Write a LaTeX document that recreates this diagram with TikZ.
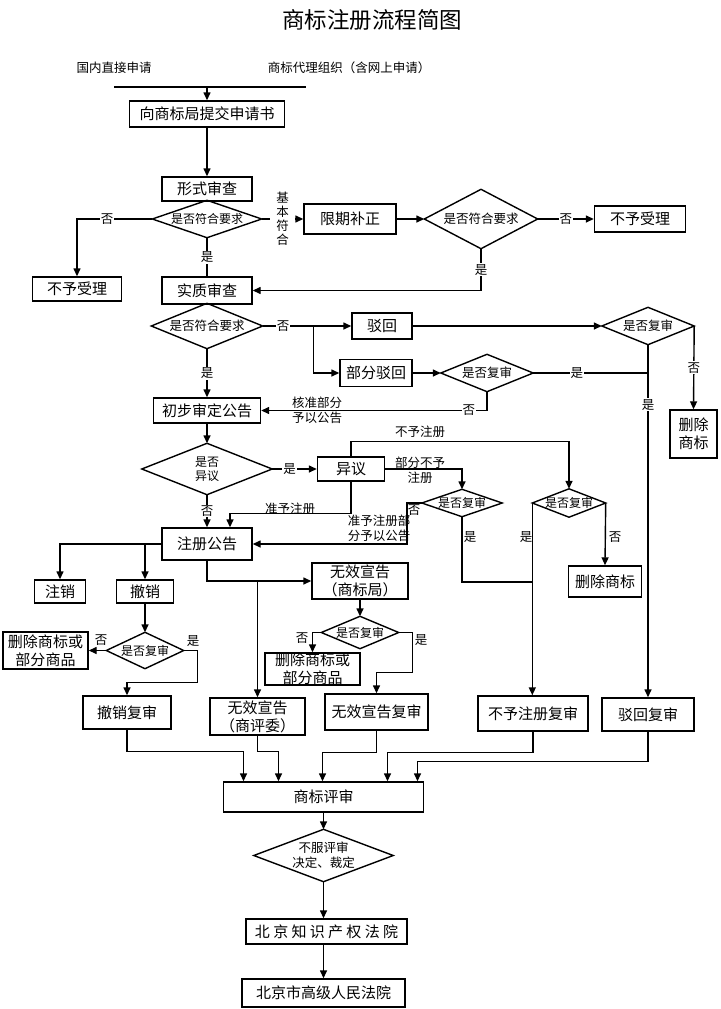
\documentclass[tikz,border=0pt]{standalone}
\usepackage{fontspec}
\setmainfont{Noto Sans CJK SC}
\usetikzlibrary{arrows.meta,calc}
\newcommand\gapA{\hspace{3.3pt}}
\begin{document}
\begin{tikzpicture}[x=1pt,y=-1pt,
  line width=1.4pt,
  arr/.style={-{Triangle[length=8pt,width=7pt]}},
  bx/.style 2 args={draw, rectangle, inner sep=0pt, align=center, minimum width=#1, minimum height=#2, font=\fontsize{15}{18}\selectfont},
  dia/.style 2 args={rectangle, inner sep=0pt, align=center, minimum width=#1, minimum height=#2, font=\fontsize{12.5}{14.5}\selectfont},
  lab/.style={fill=white, inner sep=1pt, align=center, font=\fontsize{12.5}{14.5}\selectfont},
  note/.style={inner sep=0pt, align=center, font=\fontsize{12.5}{15}\selectfont},
]
\useasboundingbox (0,0) rectangle (720,1009);
% title and sources
\node[inner sep=0pt, font=\fontsize{22.5}{26}\selectfont] (title) at (372,20) {商标注册流程简图};
\node[note] (s1) at (114,68) {国内直接申请};
\node[note] (s2) at (349,68) {商标代理组织（含网上申请）};
\coordinate (tl) at (114,87);
\coordinate (tr) at (306,87);

% boxes
\node[bx={155}{26}] (b1) at (207,114) {向商标局提交申请书};
\node[bx={90}{24}] (b2) at (207,189) {形式审查};
\node[bx={89}{24}] (b3) at (77,289) {不予受理};
\node[bx={90}{27}] (b4) at (207,290.5) {实质审查};
\node[bx={92}{30}] (b5) at (350,219) {限期补正};
\node[bx={91}{26}] (b6) at (640,219) {不予受理};
\node[bx={60}{26}] (b7) at (382,326) {驳回};
\node[bx={72}{27}] (b8) at (376,373) {部分驳回};
\node[bx={47}{48}] (b9) at (693.5,434) {删除\\商标};
\node[bx={107}{25}] (b10) at (207,410.5) {初步审定公告};
\node[bx={67}{24}] (b11) at (351,469) {异议};
\node[bx={90}{32}] (b12) at (207,544) {注册公告};
\node[bx={73}{31}] (b13) at (605,581.5) {删除商标};
\node[bx={51}{23}] (b14) at (60,591.5) {注销};
\node[bx={57}{23}] (b15) at (145,591.5) {撤销};
\node[bx={96}{36}] (b16) at (360,581) {无效宣告\\（商标局）};
\node[bx={85}{37}] (b17) at (45.5,650.5) {删除商标或\\部分商品};
\node[bx={95}{32}] (b18) at (312.5,669) {删除商标或\\部分商品};
\node[bx={88}{33}] (b19) at (127,712.5) {撤销复审};
\node[bx={95}{37}] (b20) at (257.5,716.5) {无效宣告\\（商评委）};
\node[bx={103}{36}] (b21) at (376.5,712) {无效宣告复审};
\node[bx={110}{35}] (b22) at (533,713.5) {不予注册复审};
\node[bx={92}{33}] (b23) at (648,714.5) {驳回复审};
\node[bx={200}{30}] (b24) at (323.5,797) {商标评审};
\node[bx={161}{25}] (b25) at (326.5,931.5) {北\gapA 京\gapA 知\gapA 识\gapA 产\gapA 权\gapA 法\gapA 院};
\node[bx={163}{28}] (b26) at (323.5,993) {北京市高级人民法院};

% decisions
\node[dia={108}{36}, font=\fontsize{12}{14}\selectfont] (d1) at (207,219) {是否符合要求};
\node[dia={112}{58}] (d2) at (481,219) {是否符合要求};
\node[dia={110}{44}] (d3) at (207,326) {是否符合要求};
\node[dia={91}{36}] (d4) at (648,326) {是否复审};
\node[dia={91}{36}] (d5) at (487,373) {是否复审};
\node[dia={129}{50}, font=\fontsize{12}{14}\selectfont] (d6) at (207,469) {是否\\异议};
\node[dia={79}{26}, font=\fontsize{12}{14}\selectfont] (d7) at (462,503) {是否复审};
\node[dia={72}{27}, font=\fontsize{12}{14}\selectfont] (d8) at (569,503) {是否复审};
\node[dia={76}{31}, font=\fontsize{12}{14}\selectfont] (d9) at (360,632.5) {是否复审};
\node[dia={76}{35}, font=\fontsize{12}{14}\selectfont] (d10) at (145,650.5) {是否复审};
\node[dia={138}{51}, font=\fontsize{12.5}{15}\selectfont] (d11) at (323.5,855.5) {不服评审\\决定、裁定};
\foreach \n in {d1,d2,d3,d4,d5,d6,d7,d8,d9,d10,d11}
  \draw (\n.north) -- (\n.east) -- (\n.south) -- (\n.west) -- cycle;

% connectors: top
\draw (tl) -- (tr);
\draw[arr] (tl -| b1.north) -- (b1.north);
\draw[arr] (b1.south) -- (b2.north);
\draw[arr] (d1.west) -| node[lab,pos=0.3]{否} (b3.north);
\draw (d1.south) -- node[lab]{是} (b4.north);
\draw[arr] (d1.east) -- node[lab, inner xsep=6pt, font=\fontsize{12.5}{14}\selectfont]{基\\本\\符\\合} (b5.west);
\draw[arr] (b5.east) -- (d2.west);
\draw[arr] (d2.east) -- node[lab]{否} (b6.west);
\draw[arr] (d2.south) |- node[lab,pos=0.25]{是} (b4.east);

% substantive review
\draw (d3.east) -- node[lab,pos=0.4]{否} ++(51,0) coordinate (j1);
\draw[arr] (j1) -- (b7.west);
\draw[arr] (j1) |- (b8.west);
\draw[arr] (d3.south) -- node[lab]{是} (b10.north);
\draw[arr] (b7.east) -- (d4.west);
\draw[arr] (d4.east) -- node[lab]{否} (b9.north);
\draw[arr] (d4.south) -- node[lab,pos=0.17]{是} (b23.north);
\draw[arr] (b8.east) -- (d5.west);
\draw (d5.east) -- node[lab,pos=0.38]{是} (d5.east -| d4.south);
\draw[arr] (d5.south) |- node[lab,pos=0.54]{否} (b10.east);
\node[note] (n1) at (317,410) {核准部分\\予以公告};

% opposition
\draw[arr] (b10.south) -- (d6.north);
\draw[arr] (d6.east) -- node[lab,pos=0.39]{是} (b11.west);
\draw[arr] (d6.south) -- node[lab]{否} (b12.north);
\draw[arr] (b11.north) -- ++(0,-15) -| (d8.north);
\node[note] (n2) at (420,432) {不予注册};
\draw[arr] (b11.east) -| (d7.north);
\node[note] (n3) at (420,470.5) {部分不予\\注册};
\draw[arr] (b11.south) -- ++(0,32) -| ([xshift=23pt]b12.north);
\node[note] (n4) at (290,509) {准予注册};
\draw[arr] (d7.west) -- ++(-15,0) |- (b12.east);
\node[note] (n5) at (414,510) {否};
\node[note] (n6) at (379,528) {准予注册部\\分予以公告};
\coordinate (j2) at (d8.west |- 0,582);
\draw (d7.south) |- (j2);
\node[note] (n7) at (470,537) {是};
\draw[arr] (d8.west) -- (d8.west |- b22.north);
\node[note] (n8) at (526,537) {是};
\draw[arr] (d8.east) -- (b13.north);
\node[note] (n9) at (615,537) {否};

% registration announcement
\draw[arr] (b12.west) -| (b14.north);
\draw[arr] (b12.west -| b15.north) -- (b15.north);
\draw[arr] (b12.south) |- (b16.west);
\draw[arr] (b20.north |- b16.west) -- (b20.north);
\draw[arr] (b16.south) -- (d9.north);
\draw[arr] (d9.west) -| (b18.north);
\node[note] (n10) at (302,638) {否};
\draw[arr] (d9.east) -| ++(14,40) -| (b21.north);
\node[note] (n11) at (421,640) {是};
\draw[arr] (b15.south) -- (d10.north);
\draw[arr] (d10.west) -- (b17.east);
\node[note] (n12) at (101,640) {否};
\draw[arr] (d10.east) -| ++(14,32) -| (b19.north);
\node[note] (n13) at (193,641) {是};

% review board
\coordinate (e1) at ($(b24.north)+(-80,0)$);
\coordinate (e2) at ($(b24.north)+(-45,0)$);
\coordinate (e3) at ($(b24.north)+(-1,0)$);
\coordinate (e4) at ($(b24.north)+(64,0)$);
\coordinate (e5) at ($(b24.north)+(94,0)$);
\draw[arr] (b19.south) |- ($(e1)+(0,-30)$) -- (e1);
\draw[arr] (b20.south) |- ($(e2)+(0,-30)$) -- (e2);
\draw[arr] (b21.south) |- ($(e3)+(0,-29)$) -- (e3);
\draw[arr] (b22.south) |- ($(e4)+(0,-29)$) -- (e4);
\draw[arr] (b23.south) |- ($(e5)+(0,-20)$) -- (e5);
\draw[arr] (b24.south) -- (d11.north);
\draw[arr] (d11.south) -- (d11.south |- b25.north);
\draw[arr] (b25.south -| d11.south) -- (d11.south |- b26.north);
\end{tikzpicture}
\end{document}
